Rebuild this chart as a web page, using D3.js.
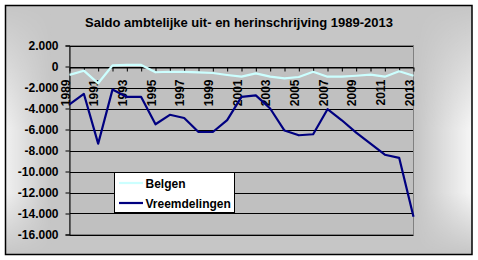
<!DOCTYPE html>
<html>
<head>
<meta charset="utf-8">
<script src="https://cdn.jsdelivr.net/npm/d3@7"></script>
<style>
  body { margin: 0; background: #fff; }
  svg text { font-family: 'Liberation Sans', Arial, sans-serif; font-weight: bold; fill: #000; }
</style>
</head>
<body>
<svg class="saldo-ch"></svg>
<script>
"use strict";

var title = 'Saldo ambtelijke uit- en herinschrijving 1989-2013';
var years = ['1989','1990','1991','1992','1993','1994','1995','1996','1997','1998','1999','2000',
  '2001','2002','2003','2004','2005','2006','2007','2008','2009','2010','2011','2012','2013'];
var yearLabels = ['1989','1991','1993','1995','1997','1999','2001','2003','2005','2007','2009','2011','2013'];
var belgen = [-800,-400,-1600,100,150,150,-550,-500,-520,-560,-620,-810,
  -970,-650,-970,-1130,-1000,-500,-970,-970,-880,-780,-970,-450,-880];
var vreemdelingen = [-3600,-2600,-7350,-2200,-2900,-2900,-5500,-4600,-4900,-6240,-6240,-5100,
  -2900,-2750,-4000,-6100,-6550,-6450,-4070,-5120,-6300,-7350,-8400,-8700,-14300];
var yTicks = [2000,0,-2000,-4000,-6000,-8000,-10000,-12000,-14000,-16000];
var seriesNames = ['Belgen','Vreemdelingen'];
var seriesColors = ['#ccffff','#000080'];

var W = 478, H = 260;
var svg = d3.select('.saldo-ch')
  .attr('width',W)
  .attr('height',H);

var nl = d3.formatLocale({decimal:',', thousands:'.', grouping:[3], currency:['',''], minus:'-'});
var fmt = nl.format(',d');

// background with light bands on the sides
var defs = svg.append('defs');
var gH = defs.append('linearGradient').attr('id','bgH').attr('x1',0).attr('x2',1).attr('y1',0).attr('y2',0);
[[0,0.75],[0.1,0],[0.88,0],[1,0.85]].forEach(function(s){
  gH.append('stop').attr('offset',s[0]).attr('stop-color','#fff').attr('stop-opacity',s[1]);
});
var gV = defs.append('linearGradient').attr('id','bgV').attr('x1',0).attr('x2',0).attr('y1',0).attr('y2',1);
[[0,'#000'],[0.5,'#fff'],[0.75,'#fff'],[1,'#000']].forEach(function(s){
  gV.append('stop').attr('offset',s[0]).attr('stop-color',s[1]);
});
defs.append('mask').attr('id','bgMask')
  .append('rect').attr('x',5).attr('y',5).attr('width',467).attr('height',250).attr('fill','url(#bgV)');

svg.append('rect')
  .attr('x',5.5).attr('y',5.5).attr('width',466.5).attr('height',249)
  .attr('fill','#c6c6c6');
svg.append('rect')
  .attr('x',5.5).attr('y',5.5).attr('width',466.5).attr('height',249)
  .attr('fill','url(#bgH)').attr('mask','url(#bgMask)');
svg.append('rect')
  .attr('x',5.5).attr('y',5.5).attr('width',466.5).attr('height',249)
  .attr('fill','none').attr('stroke','#000').attr('stroke-width',1.5);

svg.append('text')
  .attr('x',239).attr('y',27)
  .attr('text-anchor','middle')
  .style('font-size','13px')
  .text(title);

var pLeft = 69.5, pRight = 413.5, pTop = 45.5, pBottom = 234.5;

var x = d3.scalePoint()
  .domain(years)
  .range([pLeft,pRight]);

var y = d3.scaleLinear()
  .domain([-16000,2000])
  .range([pBottom,pTop]);

// plot area
svg.append('rect')
  .attr('x',pLeft).attr('y',pTop).attr('width',pRight-pLeft).attr('height',pBottom-pTop)
  .attr('fill','#c0c0c0');

svg.append('g').selectAll('line')
  .data(yTicks)
  .enter().append('line')
    .attr('x1',pLeft).attr('x2',pRight)
    .attr('y1',function(d){return Math.round(y(d))+0.5})
    .attr('y2',function(d){return Math.round(y(d))+0.5})
    .attr('stroke','#000');

svg.append('rect')
  .attr('x',pLeft).attr('y',pTop).attr('width',pRight-pLeft).attr('height',pBottom-pTop)
  .attr('fill','none').attr('stroke','#808080');

// y axis
var yAxis = d3.axisLeft(y)
  .tickValues(yTicks)
  .tickSize(4)
  .tickPadding(7)
  .tickFormat(fmt);

var gy = svg.append('g')
  .attr('transform','translate('+pLeft+',0)')
  .call(yAxis);
gy.select('.domain').attr('stroke','#000');
gy.selectAll('.tick line').attr('stroke','#000');
gy.selectAll('text').style('font-size','12px').attr('font-family',null).attr('fill','#000');

// x axis on the zero line
var xAxis = d3.axisBottom(x)
  .tickSize(4)
  .tickSizeOuter(0)
  .tickFormat(function(d){return yearLabels.indexOf(d) >= 0 ? d : ''});

var gx = svg.append('g')
  .attr('transform','translate(0,'+(Math.round(y(0))+0.5)+')')
  .call(xAxis);
gx.select('.domain').attr('stroke','#000');
gx.selectAll('.tick line').attr('stroke','#000');
gx.selectAll('text')
  .attr('font-family',null)
  .attr('fill','#000')
  .style('font-size','12px')
  .attr('text-anchor','end')
  .attr('y',0).attr('dy',0)
  .attr('transform','translate(-0.5,12) rotate(-90)');

// lines
var line = d3.line()
  .x(function(d,i){return x(years[i])})
  .y(function(d){return y(d)});

[belgen, vreemdelingen].forEach(function(s,i){
  svg.append('path')
    .datum(s)
    .attr('d',line)
    .attr('fill','none')
    .attr('stroke',seriesColors[i])
    .attr('stroke-width',2.2)
    .attr('stroke-linejoin','round');
});

// legend
var legend = svg.append('g');
legend.append('rect')
  .attr('x',114.5).attr('y',172.5).attr('width',120).attr('height',40)
  .attr('fill','#fff').attr('stroke','#000');

var items = legend.selectAll('.item')
  .data(seriesNames)
  .enter().append('g')
    .attr('transform',function(d,i){return 'translate(0,'+(183+i*20)+')'});
items.append('line')
  .attr('x1',119).attr('x2',143)
  .attr('stroke',function(d,i){return seriesColors[i]})
  .attr('stroke-width',2.2);
items.append('text')
  .attr('x',145.5).attr('y',4.5)
  .style('font-size','12px')
  .text(function(d){return d});
</script>
</body>
</html>
